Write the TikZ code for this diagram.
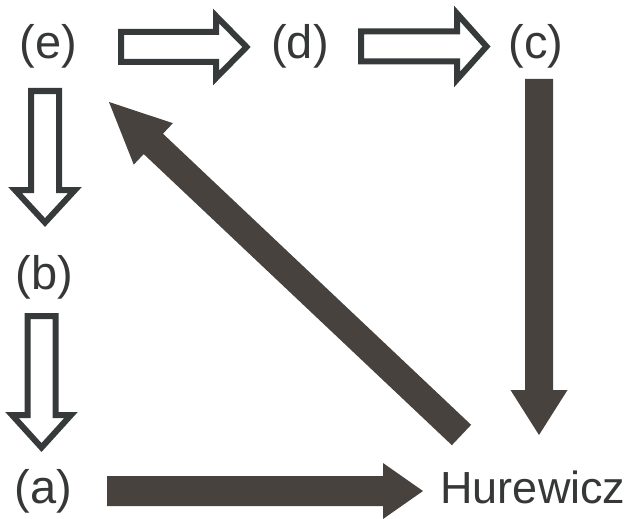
\documentclass[tikz,border=0pt]{standalone}
\usepackage{fontspec}
\setmainfont{Liberation Sans}
\usetikzlibrary{calc}
\definecolor{txtcol}{RGB}{54,56,56}
\definecolor{outcol}{RGB}{54,58,58}
\definecolor{fillcol}{RGB}{71,66,62}
\newcommand\blockarrow[6]{%
  \coordinate (ba-b) at ($(#3)!#6!(#2)$);
  \draw[#1] ($(#2)!#4!90:(#3)$) -- ($(ba-b)!#4!90:(#3)$) -- ($(ba-b)!#5!90:(#3)$) -- (#3)
    -- ($(ba-b)!#5!-90:(#3)$) -- ($(ba-b)!#4!-90:(#3)$) -- ($(#2)!#4!-90:(#3)$) -- cycle;
}
\tikzset{
  lbl/.style={font=\fontsize{47}{56}\selectfont, text=txtcol, inner sep=0pt, anchor=base},
  hollowarrow/.style={draw=outcol, fill=white, line width=6pt, line join=miter},
  solidarrow/.style={fill=fillcol, draw=none},
}
\begin{document}
\begin{tikzpicture}[x=1pt,y=-1pt]
\useasboundingbox (0,0) rectangle (632,519);
% labels
\node[lbl] (e) at (48.5,59) {(e)};
\node[lbl] (d) at (300,59) {(d)};
\node[lbl] (c) at (536,59) {(c)};
\node[lbl] (b) at (44.5,289) {(b)};
\node[lbl] (a) at (43.5,503) {(a)};
\node[lbl, font=\fontsize{45}{54}\selectfont] (h) at (533,503) {Hurewicz};
% connector end points
\coordinate (ed-s) at (121,47);     \coordinate (ed-t) at (246.5,47);
\coordinate (dc-s) at (361,46.5);   \coordinate (dc-t) at (486.5,46.5);
\coordinate (eb-s) at (45,91);      \coordinate (eb-t) at (45,222.5);
\coordinate (ba-s) at (41.5,316);   \coordinate (ba-t) at (41.5,447.5);
\coordinate (ch-s) at (539,79);     \coordinate (ch-t) at (539,435);
\coordinate (ah-s) at (107,491);    \coordinate (ah-t) at (423,491);
\coordinate (he-s) at (461.5,435);  \coordinate (he-t) at (109,102);
% hollow arrows
\blockarrow{hollowarrow}{ed-s}{ed-t}{15pt}{31pt}{30.5pt}
\blockarrow{hollowarrow}{dc-s}{dc-t}{15pt}{33pt}{29.5pt}
\blockarrow{hollowarrow}{eb-s}{eb-t}{14pt}{30pt}{32.5pt}
\blockarrow{hollowarrow}{ba-s}{ba-t}{14pt}{29.5pt}{32.5pt}
% solid arrows
\blockarrow{solidarrow}{ch-s}{ch-t}{14pt}{28.5pt}{45pt}
\blockarrow{solidarrow}{ah-s}{ah-t}{15pt}{28pt}{40pt}
\blockarrow{solidarrow}{he-s}{he-t}{14pt}{28.5pt}{61pt}
\end{tikzpicture}
\end{document}
